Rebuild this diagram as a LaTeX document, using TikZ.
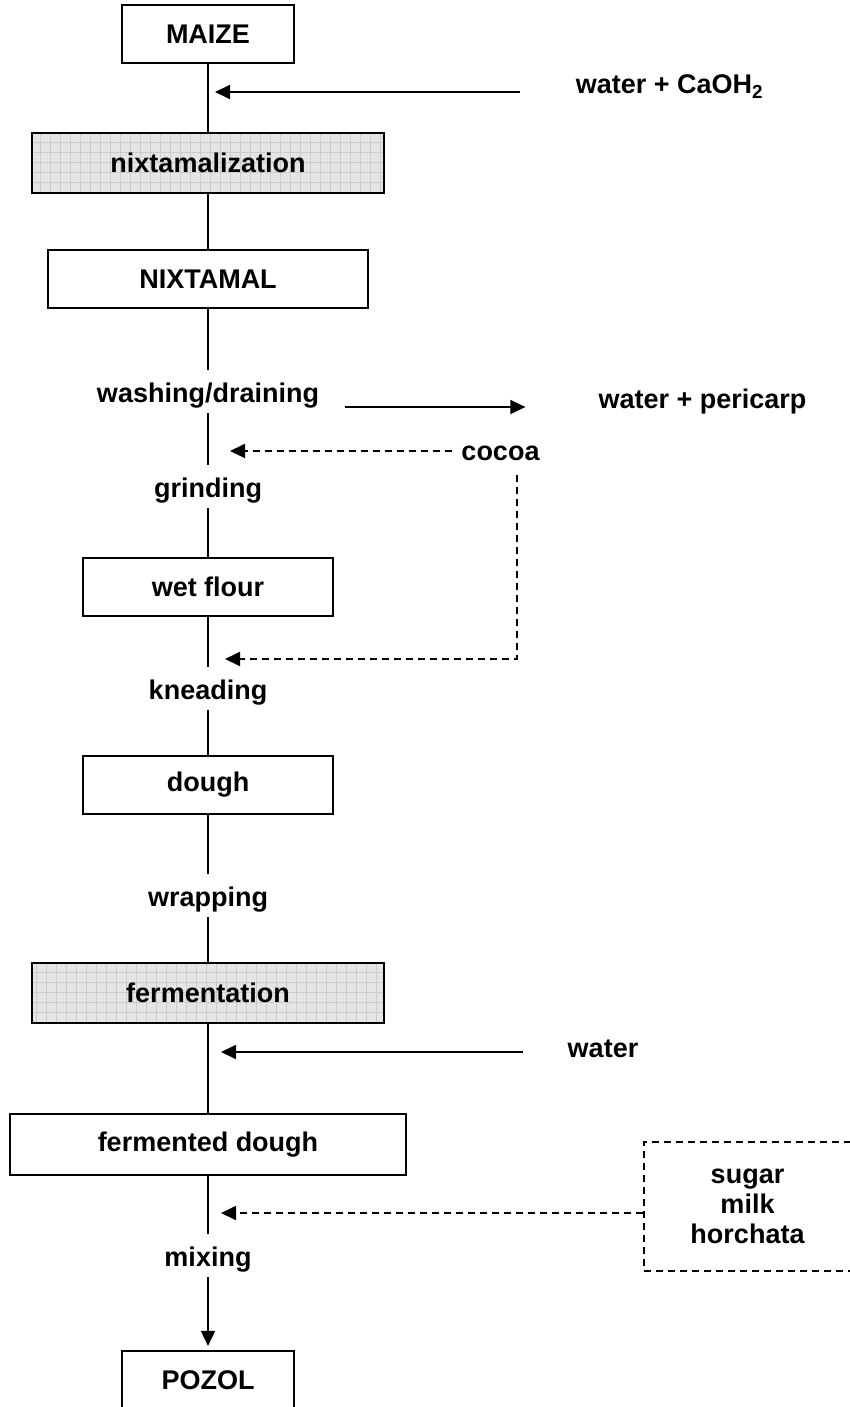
\documentclass[tikz,border=0pt]{standalone}
\usepackage{fontspec}
\setmainfont{Liberation Sans}
\usetikzlibrary{arrows.meta}

\tikzset{
  testo/.style={font=\bfseries\fontsize{27}{30}\selectfont},
  box/.style={testo, draw, line width=2.2pt, inner sep=0pt},
  grigio/.style={box, fill=gray!20,
    path picture={\draw[gray!40, line width=0.6pt]
      (path picture bounding box.south west) grid[step=10pt] (path picture bounding box.north east);}},
  fase/.style={testo, anchor=base, inner sep=0pt, text height=32pt, text depth=11pt},
  etichetta/.style={testo, anchor=base, inner sep=0pt},
  linea/.style={line width=1.8pt},
  freccia/.style={line width=1.8pt, -{Triangle[length=15pt,width=14pt]}},
  tratteggio/.style={freccia, dash pattern=on 7pt off 5pt},
}

\begin{document}
\begin{tikzpicture}[x=1pt, y=-1pt]
        \useasboundingbox (0,0) rectangle (849,1407);

        % Riquadri della colonna principale
        \node[box, minimum width=172pt, minimum height=58pt](nmaize) at (208,34) {MAIZE};
        \node[grigio, minimum width=352pt, minimum height=60pt](nnixt) at (208,163) {nixtamalization};
        \node[box, minimum width=320pt, minimum height=58pt](nnixtamal) at (208,279) {NIXTAMAL};
        \node[box, minimum width=250pt, minimum height=58pt](nwetflour) at (208,587) {wet flour};
        \node[box, minimum width=250pt, minimum height=58pt](ndough) at (208,785) {dough};
        \node[grigio, minimum width=352pt, minimum height=60pt](nferm) at (208,993) {fermentation};
        \node[box, minimum width=396pt, minimum height=61pt](nfdough) at (208,1144.5) {fermented dough};
        \node[box, minimum width=172pt, minimum height=58pt](npozol) at (208,1380) {POZOL};

        % Operazioni senza riquadro
        \node[fase](nwashing) at (208,402) {washing/draining};
        \node[fase](ngrinding) at (208,497) {grinding};
        \node[fase](nkneading) at (208,699) {kneading};
        \node[fase](nwrapping) at (208,906) {wrapping};
        \node[fase](nmixing) at (208,1266) {mixing};

        % Ingressi e uscite laterali
        \node[etichetta](ncaoh) at (669.5,94) {water + CaOH\textsubscript{2}};
        \node[etichetta](npericarp) at (702.5,408) {water + pericarp};
        \node[etichetta](ncocoa) at (500.5,460) {cocoa};
        \node[etichetta](nwater) at (603,1057) {water};
        \node[testo, draw, line width=1.4pt, dash pattern=on 7pt off 5pt, align=center,
              minimum width=207pt, minimum height=129pt](nadd) at (747.5,1206.5) {sugar\\milk\\horchata};

        % Punte delle frecce sulla linea principale
        \coordinate (pcaoh) at (215,92);
        \coordinate (pcocoa) at (230,451);
        \coordinate (pknead) at (225,659);
        \coordinate (pwater) at (221,1052);
        \coordinate (padd) at (221,1213);

        % Linea principale
        \draw[linea] (nmaize)--(nnixt);
        \draw[linea] (nnixt)--(nnixtamal);
        \draw[linea] (nnixtamal)--(nwashing);
        \draw[linea] (nwashing)--(ngrinding);
        \draw[linea] (ngrinding)--(nwetflour);
        \draw[linea] (nwetflour)--(nkneading);
        \draw[linea] (nkneading)--(ndough);
        \draw[linea] (ndough)--(nwrapping);
        \draw[linea] (nwrapping)--(nferm);
        \draw[linea] (nferm)--(nfdough);
        \draw[linea] (nfdough)--(nmixing);
        \draw[freccia, shorten >=4pt] (nmixing)--(npozol);

        % Collegamenti laterali
        \draw[freccia, shorten <=56pt] (ncaoh.west |- pcaoh)--(pcaoh);
        \draw[freccia, shorten <=26pt, shorten >=73pt] (nwashing.east |- 0,407)--(npericarp.west |- 0,407);
        \draw[tratteggio, shorten <=9pt] (ncocoa.west |- pcocoa)--(pcocoa);
        \draw[tratteggio, shorten <=15pt] (ncocoa.south -| 517,0) |- (pknead);
        \draw[freccia, shorten <=45pt] (nwater.west |- pwater)--(pwater);
        \draw[tratteggio] (nadd.west |- padd)--(padd);
    \end{tikzpicture}
\end{document}
